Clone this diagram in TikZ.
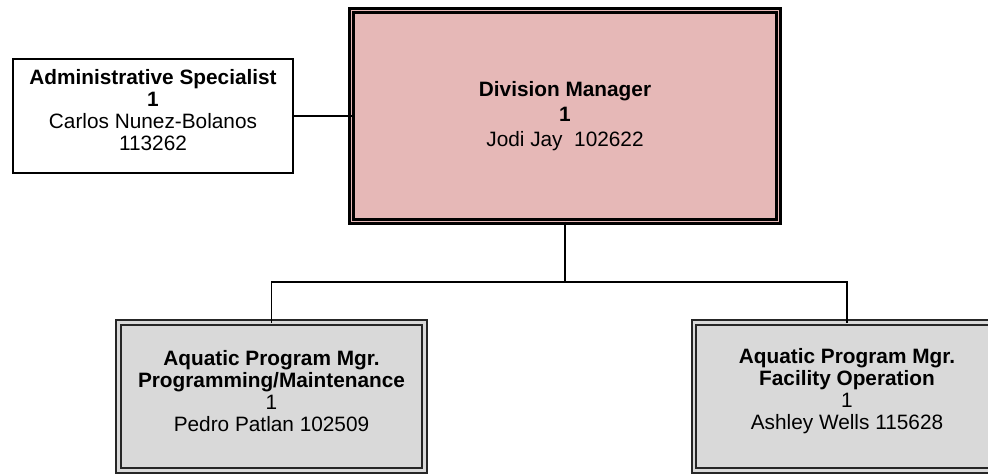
\documentclass[tikz,border=0pt]{standalone}
\usepackage{fontspec}
\setmainfont{Liberation Sans}
\definecolor{bosspink}{HTML}{E6B8B7}
\definecolor{proggray}{HTML}{D9D9D9}
\tikzset{
    orgtext/.style={align=center, inner sep=0pt, outer sep=0pt,
        font=\fontsize{15.6}{16.6}\selectfont},
    bossbox/.style={orgtext, draw=black, fill=bosspink, line width=1.6pt,
        double=bosspink, double distance=1.4pt},
    staffbox/.style={orgtext, draw=black, fill=white, line width=1.1pt},
    progbox/.style={orgtext, draw=black!85, fill=proggray, line width=1.2pt,
        double=proggray, double distance=2.2pt},
    link/.style={draw=black, line width=1.1pt}
}
\begin{document}
\begin{tikzpicture}[x=0.75pt, y=-0.75pt]
                \useasboundingbox (0, 0) rectangle (988, 475);

                \node[bossbox, minimum width=427*0.75pt, minimum height=211*0.75pt] (boss) at (565, 116)
                    {\textbf{Division Manager}\\[2.2pt] \textbf{1}\\[2.2pt] Jodi Jay\ \ 102622};
                \node[staffbox, minimum width=280*0.75pt, minimum height=114*0.75pt,
                      label={[orgtext, yshift=4.5pt]center:{\textbf{Administrative Specialist}\\ \textbf{1}\\ Carlos Nunez-Bolanos\\ 113262}}]
                    (admin) at (153, 116) {};
                \node[progbox, minimum width=306*0.75pt, minimum height=148*0.75pt,
                      label={[orgtext, yshift=4pt]center:{\textbf{Aquatic Program Mgr.}\\ \textbf{Programming/Maintenance}\\ 1\\ Pedro Patlan 102509}}]
                    (progmgr) at (271.5, 396.5) {};
                \node[progbox, minimum width=306*0.75pt, minimum height=148*0.75pt,
                      label={[orgtext, yshift=4pt]center:{\textbf{Aquatic Program Mgr.}\\ \textbf{Facility Operation}\\ 1\\ Ashley Wells 115628}}]
                    (facmgr) at (847, 396.5) {};

                \draw[link] (admin.east) -- (boss.west);
                \coordinate (split) at (565, 282);
                \draw[link] (boss.south) -- (split);
                \draw[link] (split) -| (progmgr.north);
                \draw[link] (split) -| (facmgr.north);

\end{tikzpicture}
\end{document}
